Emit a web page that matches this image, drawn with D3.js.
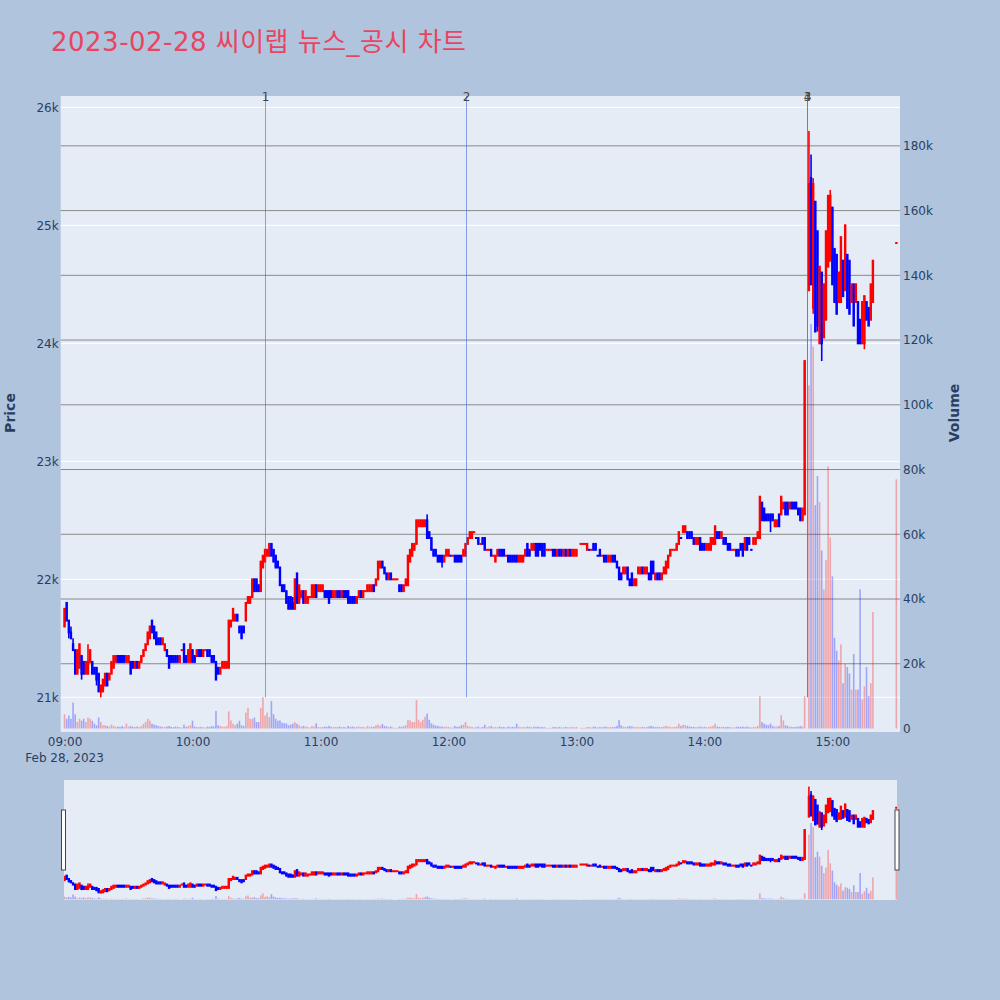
<!DOCTYPE html>
<html><head><meta charset="utf-8">
<script src="https://cdn.jsdelivr.net/npm/d3@7"></script>
<style>
body{margin:0;background:#b0c4de;}
svg{display:block;font-family:"DejaVu Sans",Verdana,"Noto Sans CJK KR",sans-serif;}
</style>
</head><body>
<svg id="chart" width="1000" height="1000"></svg>
<script>
// ---- data ----
const titleText = "2023-02-28 씨이랩 뉴스_공시 차트";
const tradeDate = "Feb 28, 2023";
// trading minutes: consecutive 1-minute candles inside each session (13:01 and 14:48 had no trades)
const sessions = [["09:00","13:00"],["13:02","14:47"],["14:49","15:19"],["15:30","15:30"]];

const open = [
 21600,21800,21650,21550,21450,21400,21200,21250,21350,21300,
 21200,21200,21300,21300,21250,21250,21200,21050,21050,21100,
 21200,21150,21200,21250,21300,21350,21350,21350,21350,21300,
 21300,21300,21300,21250,21300,21250,21300,21350,21400,21450,
 21500,21650,21600,21550,21500,21500,21450,21400,21400,21350,
 21350,21350,21350,21350,21300,21400,21450,21350,21300,21300,
 21400,21350,21350,21400,21400,21350,21400,21400,21400,21350,
 21350,21300,21250,21200,21250,21250,21250,21250,21600,21650,
 21650,21700,21600,21600,21600,21650,21800,21800,21850,22000,
 22000,21950,21900,22100,22150,22200,22200,22300,22250,22200,
 22150,22100,21950,21950,21900,21850,21850,21800,
 // 10:48-12:33
 21750,22050,21800,21850,21900,21800,21800,21850,21850,21850,
 21950,21900,21900,21900,21900,21900,21900,21900,21850,21850,
 21900,21900,21850,21900,21900,21900,21850,21850,21850,21800,
 21850,21900,21850,21900,21900,21900,21900,21950,21950,22000,
 22100,22150,22100,22050,22000,22050,22000,22000,22000,21950,
 21950,21900,21950,21950,22150,22200,22250,22300,22450,22450,
 22450,22450,22500,22400,22350,22250,22250,22200,22200,22200,
 22150,22200,22200,22200,22200,22200,22200,22200,22200,22200,
 22200,22300,22350,22350,22400,22350,22350,22300,22350,22350,
 22250,22250,22250,22200,22150,22200,22250,22250,22250,22200,
 22200,22200,22200,22200,22200,22150,
 // 12:34-13:00
 22150,22150,22200,22300,22250,22250,22250,22300,22300,22300,
 22300,22300,22250,22250,22250,22250,22250,22200,22250,22250,
 22200,22250,22200,22250,22200,22200,22200,
 // 13:02-14:47
 22300,22300,22300,22250,22250,22250,22300,22300,22200,22250,
 22200,22200,22200,22150,22150,22200,22200,22150,22100,22050,
 22050,22050,22100,22000,22050,21950,21950,22050,22050,22100,
 22050,22050,22050,22150,22150,22000,22050,22050,22000,22050,
 22050,22100,22200,22250,22250,22250,22300,22350,22400,22400,
 22400,22400,22400,22350,22300,22300,22350,22300,22300,22250,
 22250,22250,22300,22300,22400,22400,22350,22350,22350,22300,
 22300,22250,22250,22250,22250,22300,22300,22250,22350,22350,
 22250,22300,22300,22350,22350,22650,22600,22550,22550,22550,
 22550,22450,22450,22550,22550,22600,22650,22650,22600,22650,
 22650,22650,22600,22600,22500,22550,
 // 14:49-15:19, 15:30
 24450,25400,24300,25200,24950,24000,24600,24050,24200,24650,
 24700,25150,24800,24750,24350,24350,24700,24450,24750,24700,
 24350,24500,24350,24350,24200,24000,24000,24350,24300,24200,24350,
 24850
];
const high = [
 21750,21800,21650,21600,21500,21400,21400,21450,21350,21300,
 21300,21450,21400,21300,21250,21250,21200,21100,21150,21200,
 21200,21200,21300,21350,21350,21350,21350,21350,21350,21350,
 21350,21300,21300,21300,21300,21300,21350,21400,21450,21550,
 21600,21650,21600,21550,21500,21500,21500,21450,21400,21350,
 21350,21350,21350,21350,21350,21400,21450,21350,21400,21450,
 21400,21350,21400,21400,21400,21400,21400,21400,21400,21350,
 21350,21300,21250,21250,21300,21300,21300,21650,21650,21750,
 21700,21700,21600,21600,21600,21800,21850,21850,22000,22000,
 22000,21950,22150,22200,22250,22250,22300,22300,22250,22200,
 22150,22100,21950,21950,21900,21850,21850,21850,
 // 10:48-12:33
 22000,22050,21950,21900,21900,21900,21850,21850,21950,21950,
 21950,21950,21950,21950,21900,21900,21900,21900,21900,21900,
 21900,21900,21900,21900,21900,21900,21850,21850,21850,21850,
 21900,21900,21900,21900,21950,21950,21950,21950,22000,22150,
 22150,22150,22100,22050,22050,22050,22000,22000,22000,21950,
 21950,21950,22000,22200,22250,22300,22300,22500,22500,22500,
 22500,22500,22550,22400,22350,22250,22250,22200,22200,22200,
 22200,22250,22250,22200,22200,22200,22200,22200,22200,22250,
 22300,22350,22400,22400,22400,22350,22350,22300,22350,22350,
 22250,22250,22250,22200,22200,22250,22250,22250,22250,22200,
 22200,22200,22200,22200,22200,22200,
 // 12:34-13:00
 22200,22200,22250,22300,22250,22300,22300,22300,22300,22300,
 22300,22300,22250,22250,22250,22250,22250,22250,22250,22250,
 22250,22250,22250,22250,22250,22250,22250,
 // 13:02-14:47
 22300,22300,22300,22300,22250,22250,22300,22300,22200,22250,
 22200,22200,22200,22200,22200,22200,22200,22150,22100,22050,
 22100,22100,22100,22000,22050,22000,22000,22100,22100,22100,
 22100,22100,22050,22150,22150,22050,22050,22050,22050,22100,
 22150,22200,22250,22250,22250,22300,22400,22350,22450,22450,
 22400,22400,22400,22350,22350,22350,22350,22300,22300,22300,
 22300,22350,22350,22450,22400,22400,22400,22350,22350,22300,
 22300,22250,22250,22250,22250,22300,22300,22350,22350,22350,
 22250,22350,22350,22400,22700,22650,22600,22550,22550,22550,
 22550,22500,22500,22550,22700,22650,22650,22650,22650,22650,
 22650,22650,22600,22600,22600,23850,
 // 14:49-15:19, 15:30
 25800,25600,25400,25200,24950,24650,24600,24500,24950,25250,
 25300,25150,24800,24750,24600,24900,24700,25000,24750,24700,
 24500,24500,24500,24350,24200,24350,24400,24350,24300,24500,24700,
 24850
];
const low = [
 21600,21650,21500,21500,21400,21200,21200,21250,21150,21200,
 21200,21200,21300,21200,21200,21100,21050,21000,21050,21100,
 21100,21150,21200,21250,21300,21300,21300,21300,21300,21300,
 21300,21200,21250,21250,21250,21250,21300,21350,21400,21450,
 21500,21550,21500,21450,21450,21450,21450,21400,21350,21250,
 21300,21300,21300,21300,21300,21400,21300,21300,21300,21300,
 21300,21300,21350,21350,21350,21350,21400,21350,21350,21300,
 21300,21150,21200,21200,21250,21250,21250,21250,21600,21650,
 21650,21650,21550,21500,21550,21650,21800,21800,21850,21900,
 21900,21900,21900,22100,22150,22200,22200,22200,22150,22100,
 22100,21950,21900,21900,21800,21750,21750,21750,
 // 10:48-12:33
 21750,21800,21800,21850,21800,21800,21800,21850,21850,21850,
 21850,21900,21900,21900,21850,21850,21800,21850,21850,21850,
 21850,21850,21850,21850,21850,21800,21800,21800,21800,21800,
 21850,21850,21850,21900,21900,21900,21900,21900,21950,22000,
 22100,22100,22050,22000,22000,22000,22000,22000,22000,21900,
 21900,21900,21950,21950,22150,22200,22250,22300,22450,22450,
 22450,22450,22350,22350,22250,22200,22200,22150,22150,22100,
 22150,22200,22200,22200,22200,22150,22150,22150,22150,22200,
 22200,22300,22350,22350,22400,22350,22300,22300,22300,22250,
 22250,22250,22200,22200,22150,22200,22200,22200,22200,22200,
 22150,22150,22150,22150,22150,22150,
 // 12:34-13:00
 22150,22150,22200,22200,22200,22250,22250,22200,22200,22250,
 22200,22200,22250,22250,22250,22200,22200,22200,22200,22200,
 22200,22200,22200,22200,22200,22200,22200,
 // 13:02-14:47
 22300,22300,22300,22250,22250,22250,22250,22250,22200,22200,
 22200,22150,22150,22150,22150,22150,22150,22100,22000,22000,
 22050,22050,22000,21950,21950,21950,21950,22050,22050,22050,
 22050,22050,22000,22000,22050,22000,22000,22000,22000,22050,
 22050,22100,22200,22250,22250,22250,22300,22350,22400,22400,
 22350,22350,22350,22300,22300,22300,22250,22250,22250,22250,
 22250,22250,22300,22300,22350,22350,22350,22300,22300,22250,
 22250,22250,22250,22200,22200,22250,22200,22250,22250,22300,
 22250,22300,22300,22350,22350,22500,22500,22500,22500,22400,
 22500,22450,22450,22450,22550,22600,22550,22550,22600,22600,
 22600,22600,22550,22500,22500,22550,
 // 14:49-15:19, 15:30
 24450,24500,24250,24100,24100,24000,23850,24050,24200,24650,
 24700,24500,24350,24250,24350,24350,24400,24450,24300,24250,
 24350,24150,24350,24000,24000,24000,23950,24200,24150,24200,24350,
 24850
];
const close = [
 21750,21650,21550,21500,21400,21200,21400,21450,21200,21200,
 21300,21300,21400,21200,21200,21150,21050,21100,21150,21200,
 21100,21200,21300,21350,21350,21300,21300,21300,21300,21350,
 21350,21200,21250,21300,21250,21300,21350,21400,21450,21550,
 21600,21550,21500,21450,21450,21450,21500,21450,21350,21250,
 21300,21300,21300,21300,21350,21400,21300,21300,21400,21450,
 21300,21300,21400,21350,21350,21400,21400,21350,21350,21300,
 21300,21150,21200,21250,21300,21300,21300,21650,21650,21750,
 21700,21650,21550,21500,21550,21800,21850,21850,22000,21900,
 21900,21900,22150,22200,22250,22250,22300,22200,22150,22100,
 22100,21950,21900,21900,21800,21750,21750,21750,
 // 10:48-12:33
 22000,21800,21950,21900,21800,21900,21850,21850,21950,21950,
 21850,21950,21950,21950,21850,21850,21800,21850,21900,21900,
 21850,21850,21900,21850,21850,21800,21800,21800,21800,21850,
 21900,21850,21900,21900,21950,21950,21950,21900,22000,22150,
 22150,22100,22050,22000,22050,22000,22000,22000,22000,21900,
 21900,21950,22000,22200,22250,22300,22300,22500,22500,22500,
 22500,22500,22350,22350,22250,22200,22200,22150,22150,22150,
 22200,22250,22250,22200,22200,22150,22150,22150,22150,22250,
 22300,22350,22400,22400,22400,22350,22300,22300,22300,22250,
 22250,22250,22200,22200,22200,22250,22200,22200,22200,22200,
 22150,22150,22150,22150,22150,22200,
 // 12:34-13:00
 22200,22200,22250,22200,22200,22300,22300,22200,22200,22250,
 22200,22200,22250,22250,22250,22200,22200,22250,22200,22200,
 22250,22200,22250,22200,22250,22250,22250,
 // 13:02-14:47
 22300,22300,22300,22300,22250,22250,22250,22250,22200,22200,
 22200,22150,22150,22200,22200,22150,22150,22100,22000,22000,
 22100,22100,22000,21950,21950,22000,22000,22100,22100,22050,
 22100,22100,22000,22000,22050,22050,22000,22000,22050,22100,
 22150,22200,22250,22250,22250,22300,22400,22350,22450,22450,
 22350,22350,22350,22300,22350,22350,22250,22250,22250,22300,
 22300,22350,22350,22450,22350,22350,22400,22300,22300,22250,
 22250,22250,22250,22200,22200,22250,22200,22350,22250,22300,
 22250,22350,22350,22400,22700,22500,22500,22500,22500,22500,
 22500,22500,22500,22450,22700,22650,22550,22550,22650,22600,
 22600,22600,22550,22500,22600,23850,
 // 14:49-15:19, 15:30
 25350,24500,25350,24100,24150,24650,24000,24500,24950,25250,
 25250,24500,24350,24250,24600,24900,24400,25000,24300,24250,
 24500,24150,24500,24000,24000,24350,24400,24200,24150,24500,24700,
 24850
];
const volume = [
 4400,3000,4000,3000,8000,4400,2000,3000,2400,3000,
 2000,3400,3000,2400,1500,1000,3400,2000,1000,1000,
 800,600,1200,800,500,600,500,800,400,1500,
 600,800,500,500,600,400,800,1400,2000,3000,
 2400,1500,1200,1000,800,600,500,500,600,800,
 500,400,600,500,400,300,1200,500,800,1000,
 2400,600,500,400,500,400,300,600,500,800,
 600,5400,1000,800,600,500,800,5300,2500,1500,
 1000,1500,2400,1000,800,4900,6400,3000,3000,3400,
 2000,2000,6400,9700,4000,4900,3500,8500,4400,3000,
 2400,2500,1800,1600,1600,1000,1200,1500,
 // 10:48-12:33
 2000,1500,1000,600,800,600,500,300,800,600,
 1600,500,400,500,600,500,800,500,400,500,
 400,600,400,500,300,800,500,600,400,500,
 600,400,500,300,800,500,600,500,1000,1200,
 800,1400,800,600,500,600,300,200,200,600,
 500,800,1000,2700,2500,2000,2000,8800,2700,2000,
 2700,3600,4600,2700,1600,1200,900,800,600,600,
 500,600,500,300,300,800,500,600,1000,1200,
 2000,800,600,500,300,400,600,300,500,1200,
 400,600,800,400,500,400,600,400,500,300,
 600,400,500,400,1500,500,
 // 12:34-13:00
 400,500,400,600,500,400,600,500,600,400,
 500,400,200,200,200,400,500,400,500,300,
 400,500,400,300,500,400,500,
 // 13:02-14:47
 200,200,200,500,400,300,600,500,300,500,
 400,500,600,400,500,400,500,800,2600,1000,
 600,500,600,800,600,500,400,500,400,500,
 400,500,600,800,600,500,500,400,500,600,
 800,600,500,400,500,600,1500,800,1200,1000,
 800,600,500,500,400,500,600,400,500,400,
 500,600,800,1500,600,500,500,500,400,500,
 400,300,300,500,600,500,600,500,600,400,
 300,500,500,800,10000,2000,1500,1200,1000,1500,
 800,600,600,800,4100,2500,1000,800,600,500,
 400,500,600,800,600,10000,
 // 14:49-15:19, 15:30
 106000,125000,118000,69000,78000,70000,55000,43000,52000,81000,
 59000,47000,28000,24000,21000,26000,14000,20000,19000,17000,
 12000,23000,12000,12000,43000,9000,13000,19000,10000,14000,36000,
 77000
];
const priceTicks = [21000,22000,23000,24000,25000,26000];
const volumeTicks = [0,20000,40000,60000,80000,100000,120000,140000,160000,180000];
const hourTicks = ["09:00","10:00","11:00","12:00","13:00","14:00","15:00"];
const eventLabels = ["1","2","3","4"];
const eventTimes = ["10:34","12:08","14:48","14:48"];

// ---- helpers ----
function toDate(hm){const p=hm.split(":").map(Number);return new Date(2023,1,28,p[0],p[1]);}
const times=[];
sessions.forEach(([s,e])=>{let t=toDate(s);const end=toDate(e);while(t<=end){times.push(new Date(t));t=new Date(t.getTime()+60000);}});
const data = times.map((t,i)=>({t,o:open[i],h:high[i],l:low[i],c:close[i],v:volume[i]}));
data.forEach((d,i)=>{
  if(d.c>d.o) d.up=true; else if(d.c<d.o) d.up=false;
  else d.up = i===0 ? true : d.c>=data[i-1].c;
});

const UP="#ff0000", DOWN="#0000ff";
const svg=d3.select("#chart");
const P={l:60.7,r:900,t:96,b:732};
const S={l:64,r:897,t:780,b:900};

const x=d3.scaleTime().domain([new Date(2023,1,28,8,58,12),new Date(2023,1,28,15,31,42)]).range([P.l,P.r]);
const yP=d3.scaleLinear().domain([20706,26096]).range([P.b,P.t]);
const yV=d3.scaleLinear().domain([-1080,195400]).range([P.b,P.t]);
const ySP=d3.scaleLinear().domain(yP.domain()).range([S.b,S.t]);
const ySV=d3.scaleLinear().domain(yV.domain()).range([S.b,S.t]);

// title
svg.append("text").attr("x",51).attr("y",50.5).attr("font-size",26)
  .attr("textLength",415).attr("lengthAdjust","spacing")
  .attr("fill","rgb(233,69,96)").text(titleText);

// plot bg
svg.append("rect").attr("x",P.l).attr("y",P.t).attr("width",P.r-P.l).attr("height",P.b-P.t).attr("fill","#e5ecf6");
const defs=svg.append("defs");
defs.append("clipPath").attr("id","cpMain").append("rect").attr("x",P.l).attr("y",P.t).attr("width",P.r-P.l).attr("height",P.b-P.t);
defs.append("clipPath").attr("id","cpSl").append("rect").attr("x",S.l).attr("y",S.t).attr("width",S.r-S.l).attr("height",S.b-S.t);

// grid
const grid=svg.append("g");
grid.selectAll("line.pg").data(priceTicks).join("line")
  .attr("x1",P.l).attr("x2",P.r).attr("y1",d=>yP(d)).attr("y2",d=>yP(d))
  .attr("stroke","#ffffff").attr("stroke-width",1);
grid.selectAll("line.vg").data(volumeTicks.filter(d=>d>0)).join("line")
  .attr("x1",P.l).attr("x2",P.r).attr("y1",d=>yV(d)).attr("y2",d=>yV(d))
  .attr("stroke","#8a8a8a").attr("stroke-width",1);

function drawCandles(g,ys){
  g.selectAll("rect.w").data(data).join("rect")
    .attr("x",d=>x(d.t)-0.8).attr("width",1.6)
    .attr("y",d=>ys(d.h)).attr("height",d=>Math.max(ys(d.l)-ys(d.h),0.5))
    .attr("fill",d=>d.up?UP:DOWN);
  g.selectAll("rect.b").data(data).join("rect")
    .attr("x",d=>x(d.t)-1.2).attr("width",2.4)
    .attr("y",d=>ys(Math.max(d.o,d.c))-1)
    .attr("height",d=>ys(Math.min(d.o,d.c))-ys(Math.max(d.o,d.c))+2)
    .attr("fill",d=>d.up?UP:DOWN);
}
function drawVolume(g,ys){
  g.selectAll("rect").data(data).join("rect")
    .attr("x",d=>x(d.t)-0.8).attr("width",1.6)
    .attr("y",d=>ys(d.v)).attr("height",d=>ys(0)-ys(d.v))
    .attr("fill",d=>d.up?UP:DOWN).attr("fill-opacity",0.3);
}

const main=svg.append("g").attr("clip-path","url(#cpMain)");
drawCandles(main.append("g"),yP);
drawVolume(main.append("g"),yV);

// event lines
const ev=svg.append("g");
eventTimes.forEach((t,i)=>{
  const xx=Math.round(x(toDate(t)))+0.5;
  ev.append("line").attr("x1",xx).attr("x2",xx).attr("y1",P.t).attr("y2",yP(21000))
    .attr("stroke","rgba(65,105,225,0.6)").attr("stroke-width",1);
  ev.append("text").attr("x",xx).attr("y",100.5).attr("text-anchor","middle")
    .attr("font-size",12).attr("fill","#444").text(eventLabels[i]);
});

// axes
const tickColor="#2a3f5f";
const ax=svg.append("g").attr("transform",`translate(0,${P.b})`)
  .call(d3.axisBottom(x).tickValues(hourTicks.map(toDate)).tickFormat(d3.timeFormat("%H:%M")).tickSize(0).tickPadding(5.5));
ax.select(".domain").remove();
ax.selectAll("text").attr("font-size",12).attr("fill",tickColor).attr("font-family",null);
ax.attr("font-family",null).attr("font-size",null);
svg.append("text").attr("x",x(toDate(hourTicks[0]))).attr("y",761.5).attr("text-anchor","middle")
  .attr("font-size",12).attr("fill",tickColor).text(tradeDate);

const ay=svg.append("g").attr("transform",`translate(${P.l},0)`)
  .call(d3.axisLeft(yP).tickValues(priceTicks).tickFormat(d=>d/1000+"k").tickSize(0).tickPadding(2));
ay.select(".domain").remove();
ay.attr("font-family",null).attr("font-size",null);
ay.selectAll("text").attr("font-size",12).attr("fill",tickColor);

const ay2=svg.append("g").attr("transform",`translate(${P.r},0)`)
  .call(d3.axisRight(yV).tickValues(volumeTicks).tickFormat(d=>d===0?"0":d/1000+"k").tickSize(0).tickPadding(3));
ay2.select(".domain").remove();
ay2.attr("font-family",null).attr("font-size",null);
ay2.selectAll("text").attr("font-size",12).attr("fill",tickColor);

svg.append("text").attr("transform","translate(14.5,413) rotate(-90)").attr("text-anchor","middle")
  .attr("font-size",14).attr("font-weight","bold").attr("fill",tickColor).text("Price");
svg.append("text").attr("transform","translate(958.5,413) rotate(-90)").attr("text-anchor","middle")
  .attr("font-size",14).attr("font-weight","bold").attr("fill",tickColor).text("Volume");

// range slider
svg.append("rect").attr("x",S.l).attr("y",S.t).attr("width",S.r-S.l).attr("height",S.b-S.t).attr("fill","#e5ecf6");
const sl=svg.append("g").attr("clip-path","url(#cpSl)");
drawCandles(sl.append("g"),ySP);
drawVolume(sl.append("g"),ySV);
[[61.5,810],[895,810]].forEach(([hx,hy])=>{
  svg.append("rect").attr("x",hx).attr("y",hy).attr("width",4).attr("height",60)
    .attr("fill","#ffffff").attr("stroke","#444").attr("stroke-width",1);
});
</script>
</body></html>
